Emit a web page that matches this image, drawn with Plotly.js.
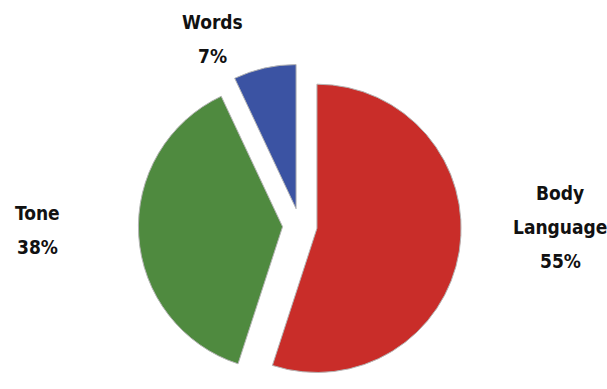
<!DOCTYPE html>
<html>
<head>
<meta charset="utf-8">
<script src="https://cdn.plot.ly/plotly-3.0.1.min.js"></script>
<style>html,body{margin:0;padding:0;background:#fff;}#chart{width:607px;height:389px;}</style>
</head>
<body>
<div id="chart"></div>
<script>
const labels = ["Body<br>Language", "Tone", "Words"];
const values = [55, 38, 7];
const colors = ["#C92D29", "#4F8A3F", "#3B53A3"];

// label placement in pixels (centre x, first-line y), layout only
const W = 607, H = 389;
const labelPos = [[560, 193], [37, 213], [212, 22]];
const lineGap = 34;
const fontFam = "DejaVu Sans Condensed, Liberation Sans Narrow, Arial Narrow, sans-serif";

const total = values.reduce((a, b) => a + b, 0);
const annotations = [];
labels.forEach((lab, i) => {
  const lines = lab.split("<br>").concat([Math.round(values[i] / total * 100) + "%"]);
  lines.forEach((ln, j) => {
    annotations.push({
      x: labelPos[i][0] / W, y: 1 - (labelPos[i][1] + j * lineGap) / H,
      xref: "paper", yref: "paper", xanchor: "center", yanchor: "middle",
      showarrow: false, text: "<b>" + ln + "</b>",
      font: {family: fontFam, size: 19, color: "#111"}
    });
  });
});

Plotly.newPlot("chart", [{
  type: "pie",
  labels: labels,
  values: values,
  sort: false,
  direction: "clockwise",
  rotation: 0,
  pull: [0.12, 0.12, 0.12],
  marker: {colors: colors, line: {color: "#b5b5b5", width: 1}},
  textinfo: "none",
  domain: {x: [0.228, 0.76], y: [0.0, 0.84]},
  showlegend: false,
  hoverinfo: "none"
}], {
  width: W, height: H,
  margin: {l: 0, r: 0, t: 0, b: 0},
  paper_bgcolor: "#fff",
  showlegend: false,
  annotations: annotations
}, {displayModeBar: false, staticPlot: true});
</script>
</body>
</html>
